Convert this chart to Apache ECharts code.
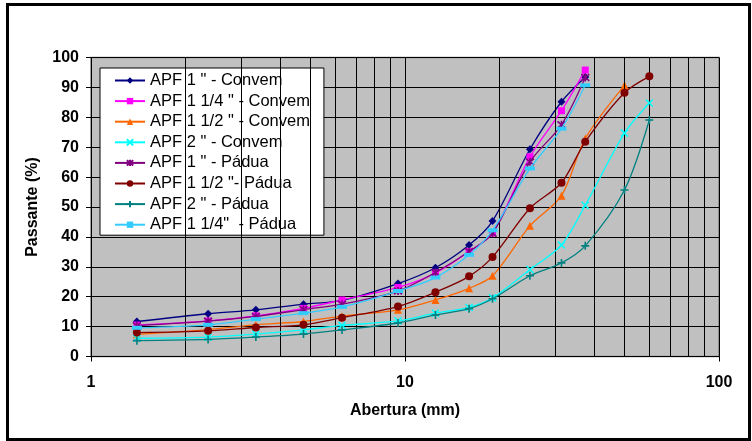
<!DOCTYPE html>
<html>
<head>
<meta charset="utf-8">
<script src="https://cdn.jsdelivr.net/npm/echarts@6/dist/echarts.min.js"></script>
<style>
html,body{margin:0;padding:0;background:#fff;}
#chart{width:752px;height:441px;}
</style>
</head>
<body>
<div id="chart"></div>
<script>
// Sieve openings (mm)
const sieves = [1.4, 2.36, 3.35, 4.75, 6.3, 9.5, 12.5, 16, 19, 25, 31.5, 37.5, 50, 60];

const seriesNames = [
  'APF 1 " - Convem',
  'APF 1 1/4 " - Convem',
  'APF 1 1/2 " - Convem',
  'APF 2 " - Convem',
  'APF 1 " - Pádua',
  'APF 1 1/2 "- Pádua',
  'APF 2 " - Pádua',
  'APF 1 1/4"  - Pádua'
];

const apf1Convem   = [11.7, 14.3, 15.6, 17.5, 18.8, 24.4, 29.7, 37.3, 45.3, 69.3, 85.2, 93.5];
const apf114Convem = [10.5, 11.9, 13.6, 16.1, 18.9, 23.1, 27.9, 35.1, 41.3, 66.8, 82.2, 95.8];
const apf112Convem = [7.4, 9.0, 10.6, 11.7, 13.5, 15.6, 18.9, 22.8, 27.0, 43.7, 53.8, 72.9, 90.7];
const apf2Convem   = [6.1, 6.5, 7.5, 8.9, 10.4, 11.9, 14.5, 16.4, 19.6, 29.1, 37.3, 50.6, 74.7, 84.8];
const apf1Padua    = [10.3, 11.8, 13.4, 15.7, 17.5, 21.9, 28.1, 35.1, 41.2, 65.1, 77.5, 93.3];
const apf112Padua  = [8.0, 8.6, 9.7, 10.6, 13.0, 16.7, 21.5, 26.8, 33.3, 49.6, 58.1, 71.8, 88.2, 93.7];
const apf2Padua    = [5.3, 5.7, 6.5, 7.5, 8.9, 11.2, 13.9, 16.0, 19.3, 27.0, 31.3, 37.0, 55.7, 79.1];
const apf114Padua  = [9.6, 10.6, 12.5, 14.5, 16.6, 21.9, 26.4, 34.0, 42.2, 62.9, 76.2, 90.7];

const seriesValues = [apf1Convem, apf114Convem, apf112Convem, apf2Convem, apf1Padua, apf112Padua, apf2Padua, apf114Padua];

// Minor log grid positions
const minorGrid = [2, 3, 4, 5, 6, 7, 8, 9, 20, 30, 40, 50, 60, 70, 80, 90];

const colors = ['#000080', '#FF00FF', '#FF6600', '#00FFFF', '#800080', '#800000', '#008080', '#33CCFF'];
const symbols = [
  'diamond', 'rect', 'triangle',
  'path://M0,0L10,10M10,0L0,10',
  'path://M0,0L10,10M10,0L0,10M5,-1L5,11',
  'circle',
  'path://M5,0L5,10M0,5L10,5',
  'rect'
];
const symbolSizes = [8, 7, 8, 7, 8, 8, 8, [10, 4]];

const FONT = 'Liberation Sans, Arial, sans-serif';

const chart = echarts.init(document.getElementById('chart'), null, {renderer: 'canvas'});

const series = [{
  name: '__grid',
  type: 'line',
  data: [],
  silent: true,
  z: 0,
  markLine: {
    silent: true,
    symbol: ['none', 'none'],
    label: {show: false},
    animation: false,
    lineStyle: {color: '#000', width: 1, type: 'solid'},
    emphasis: {disabled: true},
    data: minorGrid.map(v => ({xAxis: v}))
  }
}];

seriesNames.forEach((name, i) => {
  const vals = seriesValues[i];
  const isPath = typeof symbols[i] === 'string' && symbols[i].indexOf('path://') === 0;
  series.push({
    name: name,
    type: 'line',
    smooth: 0.3,
    data: vals.map((v, j) => [sieves[j], v]),
    symbol: symbols[i],
    symbolSize: symbolSizes[i],
    showAllSymbol: true,
    z: 2 + i,
    lineStyle: {color: colors[i], width: 1.3},
    itemStyle: {
      color: colors[i],
      borderColor: colors[i],
      borderWidth: isPath ? 1.6 : 0
    },
    emphasis: {disabled: true},
    animation: false
  });
});

chart.setOption({
  animation: false,
  backgroundColor: '#fff',
  grid: {
    left: 91, right: 33, top: 57.5, bottom: 84.5,
    show: true,
    backgroundColor: '#c0c0c0',
    borderColor: '#808080',
    borderWidth: 1.5,
    containLabel: false
  },
  legend: {
    data: seriesNames,
    orient: 'vertical',
    left: 100,
    top: 68,
    padding: [4, 14, 2, 14],
    itemWidth: 30,
    itemHeight: 8,
    itemGap: 3.6,
    backgroundColor: '#fff',
    borderColor: '#000',
    borderWidth: 1,
    borderRadius: 0,
    selectedMode: false,
    textStyle: {fontFamily: FONT, fontSize: 16.5, color: '#000', lineHeight: 16.5}
  },
  xAxis: {
    type: 'log',
    logBase: 10,
    min: 1,
    max: 100,
    name: 'Abertura (mm)',
    nameLocation: 'middle',
    nameGap: 46,
    nameTextStyle: {fontFamily: FONT, fontSize: 16, fontWeight: 'bold', color: '#000'},
    axisLine: {show: true, lineStyle: {color: '#000', width: 1}},
    axisTick: {show: true, inside: false, length: 5, lineStyle: {color: '#000'}},
    axisLabel: {fontFamily: FONT, fontSize: 16, fontWeight: 'bold', color: '#000', margin: 18},
    splitLine: {show: true, lineStyle: {color: '#000', width: 1}},
    minorTick: {show: false},
    minorSplitLine: {show: false}
  },
  yAxis: {
    type: 'value',
    min: 0,
    max: 100,
    interval: 10,
    name: 'Passante (%)',
    nameLocation: 'middle',
    nameGap: 50,
    nameTextStyle: {fontFamily: FONT, fontSize: 16, fontWeight: 'bold', color: '#000'},
    axisLine: {show: true, lineStyle: {color: '#000', width: 1}},
    axisTick: {show: true, inside: false, length: 5, lineStyle: {color: '#000'}},
    axisLabel: {fontFamily: FONT, fontSize: 16, fontWeight: 'bold', color: '#000', margin: 12},
    splitLine: {show: true, lineStyle: {color: '#000', width: 1}}
  },
  graphic: [{
    type: 'rect',
    left: 5, top: 2,
    shape: {x: 0, y: 0, width: 742, height: 435},
    style: {fill: 'none', stroke: '#000', lineWidth: 3},
    silent: true,
    z: 100
  }],
  series: series
});
</script>
</body>
</html>
